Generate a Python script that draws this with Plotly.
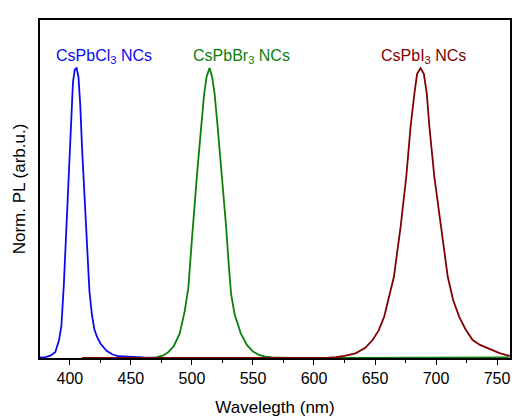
import plotly.graph_objects as go

# CsPbCl3 NCs (blue)
cl_wl = [375.5, 380, 384, 388, 391, 393, 395, 397, 399, 401, 402.5, 404, 405.5, 407, 408.5,
         410, 412, 414, 416, 418, 420, 422, 425, 430, 435, 440, 450, 460, 470]
cl_pl = [0.002, 0.003, 0.008, 0.02, 0.06, 0.11, 0.25, 0.45, 0.63, 0.82, 0.95, 0.995, 1.0, 0.97, 0.87,
         0.72, 0.55, 0.38, 0.23, 0.15, 0.10, 0.075, 0.05, 0.025, 0.012, 0.006, 0.003, 0.002, 0.001]

# CsPbBr3 NCs (green)
br_wl = [460, 470, 476, 480, 485, 490, 494, 497, 500, 502, 504, 507, 510, 512, 514.4, 516.5,
         518.5, 521, 524.7, 528, 530, 532, 535, 540, 545, 550, 555, 560, 566, 580, 620, 700, 760]
br_pl = [0.0, 0.001, 0.008, 0.018, 0.04, 0.085, 0.16, 0.24, 0.41, 0.53, 0.625, 0.77, 0.91, 0.97, 1.0, 0.97,
         0.913, 0.80, 0.625, 0.453, 0.33, 0.223, 0.15, 0.085, 0.045, 0.022, 0.011, 0.005, 0.002, 0.0, 0.0, 0.001, 0.002]

# CsPbI3 NCs (dark red)
i_wl = [410, 600, 612, 618, 625, 634, 642, 648, 653, 657.5, 661, 665.5, 668, 671, 675.6, 679.2, 682.3,
        684.5, 687.3, 690, 692.4, 694.5, 698.6, 704, 707, 709.6, 714, 719, 724, 730, 736, 740, 746, 752, 757, 761]
i_pl = [0.0, 0.0, 0.001, 0.003, 0.007, 0.016, 0.035, 0.062, 0.095, 0.142, 0.2, 0.28, 0.36, 0.453, 0.625, 0.80, 0.913,
        0.98, 1.0, 0.98, 0.913, 0.80, 0.625, 0.453, 0.36, 0.28, 0.2, 0.142, 0.1, 0.062, 0.045, 0.038, 0.026, 0.017, 0.011, 0.007]

labels = ["CsPbCl<sub>3</sub> NCs", "CsPbBr<sub>3</sub> NCs", "CsPbI<sub>3</sub> NCs"]
label_x = [427.8, 540.5, 689.6]
label_y = [1.041, 1.041, 1.041]

blue = "rgb(10,10,240)"
green = "rgb(10,128,10)"
red = "rgb(128,0,0)"
colors = [blue, green, red]

fig = go.Figure()
fig.add_trace(go.Scatter(x=br_wl, y=br_pl, mode="lines", line=dict(color=green, width=1.8)))
fig.add_trace(go.Scatter(x=cl_wl, y=cl_pl, mode="lines", line=dict(color=blue, width=1.8)))
fig.add_trace(go.Scatter(x=i_wl, y=i_pl, mode="lines", line=dict(color=red, width=1.8)))

for t, x, y, c in zip(labels, label_x, label_y, colors):
    fig.add_annotation(x=x, y=y, text=t, showarrow=False, xref="x", yref="y",
                       font=dict(color=c, size=16, family="Liberation Sans, Arial"))

fig.update_layout(
    width=514, height=417,
    margin=dict(l=40, r=2, t=20, b=59),
    paper_bgcolor="white", plot_bgcolor="white",
    showlegend=False,
    font=dict(family="Liberation Sans, Arial", color="black"),
)
fig.update_xaxes(range=[375.5, 760.6], showgrid=False, zeroline=False,
                 showline=True, linecolor="black", linewidth=1.5, mirror=True,
                 ticks="outside", ticklen=5, tickwidth=1.2, tickcolor="black",
                 dtick=50, tick0=400, tickfont=dict(size=16),
                 minor=dict(ticks="outside", ticklen=3, dtick=25, tick0=375, tickcolor="black", tickwidth=1.2),
                 title=dict(text="Wavelegth (nm)", font=dict(size=17), standoff=15))
fig.update_yaxes(range=[0, 1.1655], showgrid=False, zeroline=False,
                 showline=True, linecolor="black", linewidth=1.5, mirror=True,
                 showticklabels=False, ticks="",
                 title=dict(text="Norm. PL (arb.u.)", font=dict(size=17), standoff=8))

fig.write_html("out.html")
